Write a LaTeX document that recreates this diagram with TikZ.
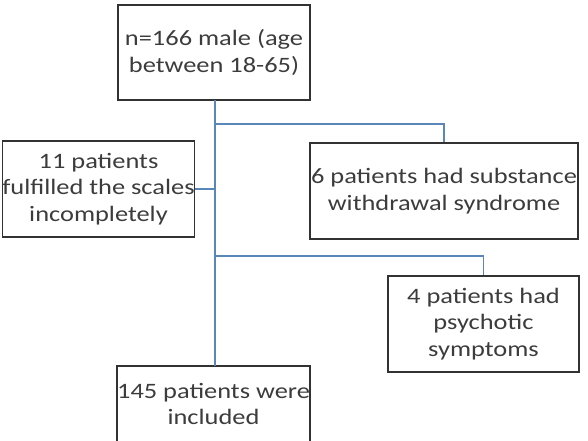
\documentclass[tikz,border=0pt]{standalone}
\usepackage{fontspec}
\setmainfont{Carlito}[FakeStretch=1.2]
\definecolor{conn}{RGB}{90,135,185}
\definecolor{txt}{RGB}{60,60,60}
\definecolor{bord}{RGB}{50,50,50}
\begin{document}
\begin{tikzpicture}[x=1pt,y=1pt,
  box/.style={draw=bord, line width=1.3pt, text=txt, align=center, inner sep=0pt,
    font=\fontsize{22}{26.5}\selectfont},
  link/.style={draw=conn, line width=1.4pt}]
\useasboundingbox (0,0) rectangle (588,-440);
\clip (0,0) rectangle (588,-440);
\node[box, minimum width=192pt, minimum height=95pt] (top) at (214,-52.5) {n=166 male (age\\between 18-65)};
\node[box, minimum width=191pt, minimum height=96pt] (left) at (98.5,-189) {11 patients\\fulfilled the scales\\incompletely};
\node[box, minimum width=268pt, minimum height=96pt] (r1) at (444,-191) {6 patients had substance\\withdrawal syndrome};
\node[box, minimum width=191pt, minimum height=96pt] (r2) at (483.5,-324) {4 patients had\\psychotic\\symptoms};
\node[box, minimum width=191pt, minimum height=76pt] (bot) at (213.5,-404) {145 patients were\\included};
\coordinate (b1) at (215,-124);
\coordinate (b2) at (215,-256);
\coordinate (bl) at (215,-189);
\draw[link] (215,-100) coordinate (t0) -- (215,-366);
\draw[link] (b1) -- (b1 -| r1.north) -- (r1.north);
\draw[link] (b2) -- (b2 -| r2.north) -- (r2.north);
\draw[link] (left.east) -- (bl);
\end{tikzpicture}
\end{document}
